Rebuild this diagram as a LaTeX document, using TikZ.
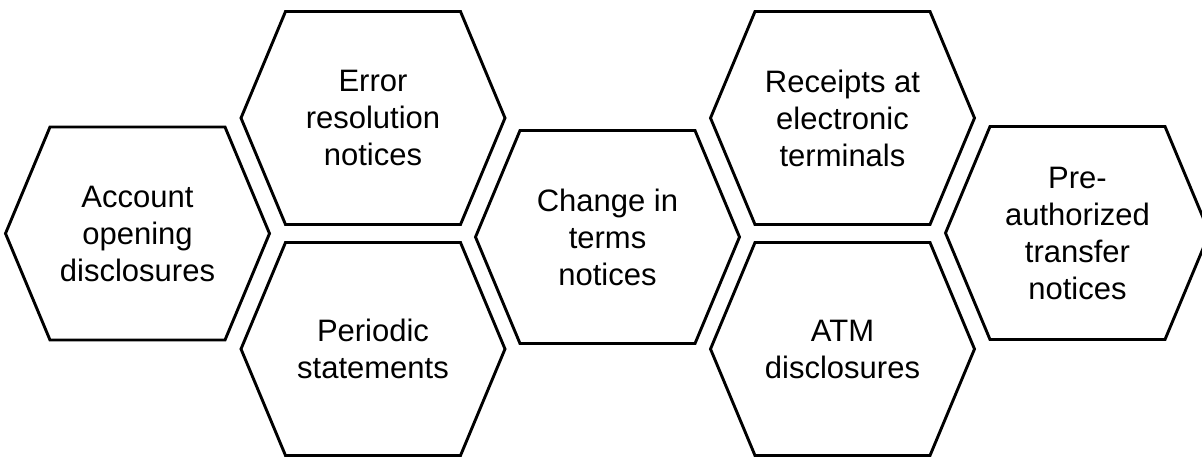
\documentclass[tikz,border=0pt]{standalone}
\usepackage{fontspec}
\setmainfont{Liberation Sans}
\begin{document}
\begin{tikzpicture}[x=1pt,y=-1pt,
  hexline/.style={draw=black,line width=2.9pt,line join=miter},
  hexlabel/.style={align=center,font=\fontsize{31}{37}\selectfont,inner sep=0pt},
  hex/.pic={\draw[hexline] (-132,0) -- (-87.5,-106.5) -- (87.5,-106.5) -- (132,0) -- (87.5,106.5) -- (-87.5,106.5) -- cycle;}]
\useasboundingbox (0,0) rectangle (1202,456);
\pic (h1) at (137.5,233.5) {hex};
\pic (h2) at (373,118) {hex};
\pic (h3) at (373,349) {hex};
\pic (h4) at (607.5,237) {hex};
\pic (h5) at (842.5,118) {hex};
\pic (h6) at (842.5,349) {hex};
\pic (h7) at (1077.5,233) {hex};
\node[hexlabel] (t1) at (137.5,233.5) {Account\\opening\\disclosures};
\node[hexlabel] (t2) at (373,118) {Error\\resolution\\notices};
\node[hexlabel] (t3) at (373,349) {Periodic\\statements};
\node[hexlabel] (t4) at (607.5,237) {Change in\\terms\\notices};
\node[hexlabel] (t5) at (842.5,118) {Receipts at\\electronic\\terminals};
\node[hexlabel] (t6) at (842.5,349) {ATM\\disclosures};
\node[hexlabel] (t7) at (1077.5,233) {Pre-\\authorized\\transfer\\notices};
\end{tikzpicture}
\end{document}
